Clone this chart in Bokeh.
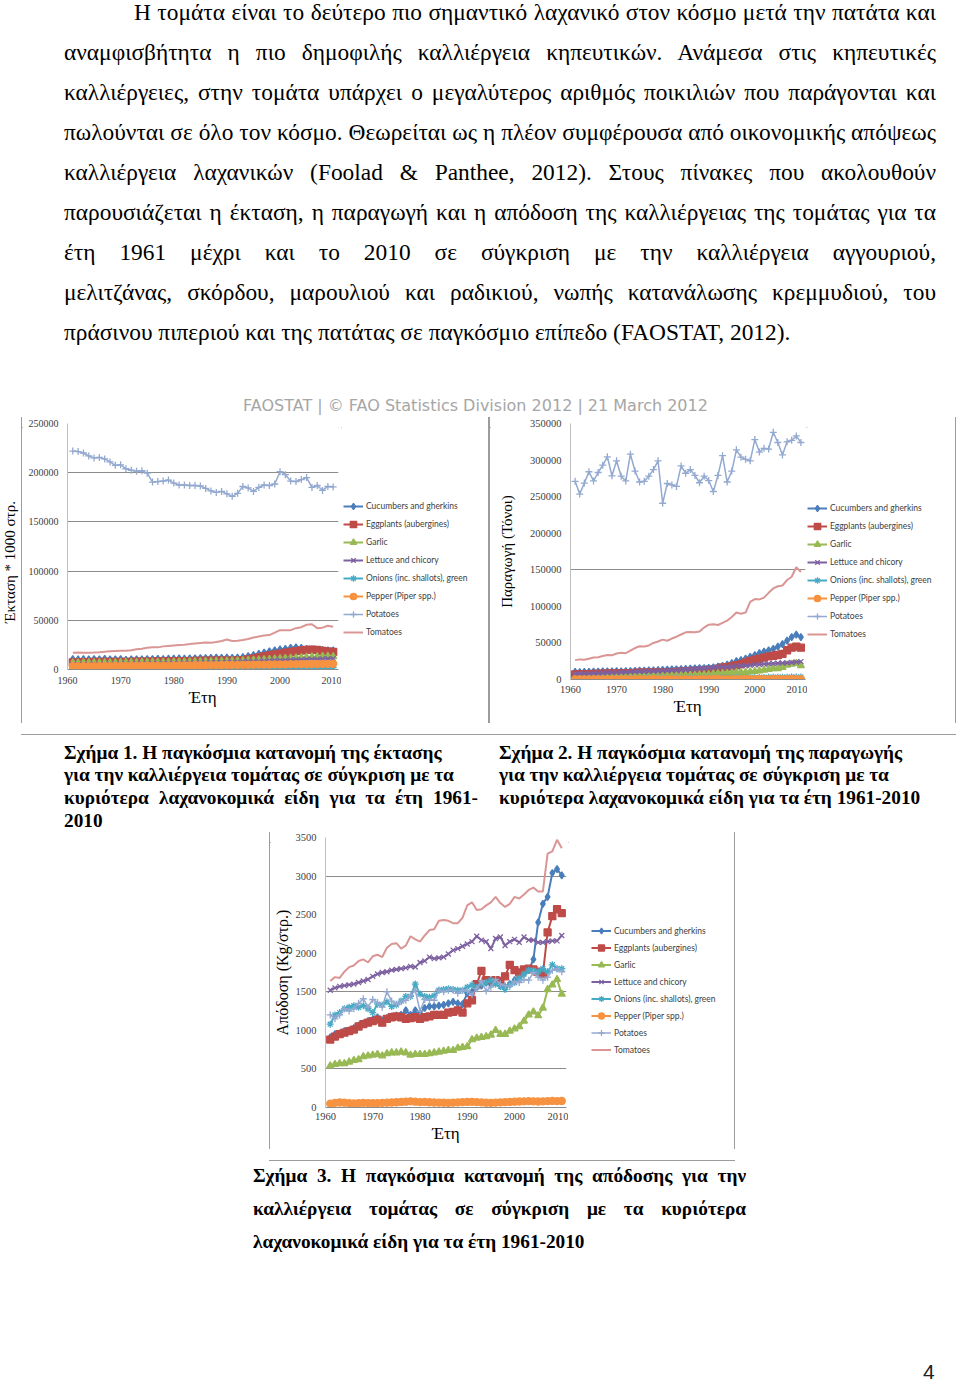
from bokeh.plotting import figure
from bokeh.models import Div, Spacer, Legend, LegendItem, FixedTicker, BasicTickFormatter, Range1d
from bokeh.layouts import column, row
from bokeh.embed import file_html
from bokeh.resources import INLINE

# ---------------- data ----------------
years = list(range(1961, 2011))
x_ticks = [1960, 1970, 1980, 1990, 2000, 2010]
names = ["Cucumbers and gherkins", "Eggplants (aubergines)", "Garlic", "Lettuce and chicory",
         "Onions (inc. shallots), green", "Pepper (Piper spp.)", "Potatoes", "Tomatoes"]
colors = ["#4A7EBB", "#BE4B48", "#98B954", "#7D60A0", "#46AAC5", "#F69240", "#93A9D0", "#D99694"]
markers = ["diamond", "square", "triangle", "x", "asterisk", "circle", "cross", None]

# Figure 1: area (1000 stremmata)
area_cucumbers = [10500, 10200, 10600, 10300, 10500, 10400, 10700, 10400, 10200, 10500,
                  9800, 10200, 10400, 10300, 10500, 10600, 10800, 10600, 11000, 11000,
                  11200, 11000, 11300, 11400, 11600, 11500, 11800, 12000, 11800, 12000,
                  11800, 12200, 12600, 13500, 14500, 16000, 17200, 18500, 19500, 20500,
                  21000, 22000, 22500, 22000, 21000, 20500, 20000, 20000, 19500, 19500]
area_eggplants = [7300, 7400, 7500, 7500, 7600, 7600, 7700, 7700, 7800, 7800,
                  7700, 7800, 7900, 8000, 8000, 8100, 8200, 8300, 8300, 8400,
                  8500, 8500, 8600, 8700, 8800, 8900, 9000, 9100, 9200, 9000,
                  9100, 9300, 9600, 10300, 11200, 12300, 13400, 14500, 15300, 16200,
                  17000, 17800, 18600, 19300, 20000, 20200, 19800, 19000, 18400, 18000]
area_garlic = [6800, 6800, 6900, 6900, 7000, 7000, 7000, 7100, 7100, 7200,
               7200, 7300, 7300, 7400, 7400, 7500, 7500, 7600, 7600, 7700,
               7700, 7800, 7900, 8000, 8100, 8200, 8300, 8400, 8500, 8600,
               8700, 8900, 9100, 9300, 9600, 9800, 10100, 10400, 10700, 11000,
               11300, 11600, 11900, 12200, 12500, 12800, 13000, 13300, 13500, 13200]
area_lettuce = [5000, 5100, 5100, 5200, 5300, 5300, 5400, 5500, 5500, 5600,
                5700, 5700, 5800, 5900, 5900, 6000, 6100, 6200, 6200, 6300,
                6400, 6500, 6600, 6700, 6800, 6900, 7000, 7100, 7200, 7400,
                7500, 7700, 7900, 8100, 8300, 8500, 8700, 8900, 9100, 9300,
                9500, 9700, 9900, 10100, 10300, 10500, 10600, 10800, 11000, 11100]
area_onions = [900, 900, 900, 950, 950, 950, 1000, 1000, 1000, 1050,
               1050, 1050, 1100, 1100, 1100, 1150, 1150, 1150, 1200, 1200,
               1200, 1250, 1250, 1250, 1300, 1300, 1300, 1350, 1350, 1350,
               1400, 1400, 1400, 1450, 1450, 1500, 1500, 1550, 1550, 1600,
               1600, 1650, 1650, 1700, 1700, 1750, 1750, 1800, 1800, 1850]
area_pepper = [3300, 3400, 3400, 3300, 3500, 3500, 3600, 3500, 3600, 3700,
               3700, 3800, 3700, 3800, 3900, 3900, 4000, 3900, 4000, 4100,
               4100, 4200, 4200, 4300, 4300, 4400, 4400, 4500, 4600, 4600,
               4700, 4700, 4800, 4800, 4900, 5000, 5000, 5100, 5200, 5200,
               5300, 5400, 5400, 5500, 5500, 5600, 5600, 5700, 5700, 5800]
area_potatoes = [222000, 221500, 220000, 217000, 215000, 215500, 214000, 211000, 207500, 208000,
                 204000, 202500, 201500, 202000, 199500, 190500, 191000, 191500, 192500, 189500,
                 187500, 187500, 187000, 187000, 186500, 184000, 181500, 180000, 181000, 178500,
                 176000, 179000, 186000, 184500, 181000, 185000, 187500, 187000, 188500, 201000,
                 198000, 191500, 191000, 193000, 195000, 185000, 187000, 182000, 186000, 185500]
area_tomatoes = [17000, 17300, 17100, 17000, 17200, 17500, 18000, 18500, 18800, 19000,
                 19000, 19500, 20500, 21000, 22000, 22500, 22500, 23500, 24000, 24500,
                 25000, 25200, 25800, 26500, 27000, 27500, 27300, 28000, 29000, 30500,
                 29000, 29200, 30000, 31000, 32500, 33500, 34500, 35000, 37500, 40000,
                 40000, 40000, 42000, 43000, 45500, 46000, 42000, 42500, 44500, 43500]

# Figure 2: production (1000 t)
prod_cucumbers = [10500, 10200, 10600, 10500, 10800, 10700, 11000, 11100, 11000, 11400,
                  11000, 11300, 11600, 11700, 12000, 12300, 12600, 12500, 13000, 13200,
                  13500, 13700, 14000, 14300, 14700, 14900, 15300, 15600, 15500, 16000,
                  16500, 17600, 18800, 20500, 22500, 25000, 26500, 28500, 31000, 33500,
                  36000, 38000, 40000, 42000, 45000, 48500, 53000, 58000, 61500, 58000]
prod_eggplants = [7000, 7100, 7300, 7400, 7600, 7700, 7900, 8100, 8300, 8500,
                  8600, 8500, 8800, 9000, 9200, 9300, 9400, 9600, 9700, 9800,
                  10000, 10200, 10400, 10600, 10800, 11100, 11400, 11700, 11600, 12500,
                  12800, 14500, 16500, 17000, 18000, 19500, 21000, 23000, 25500, 27000,
                  28000, 30000, 31500, 32500, 33500, 35000, 40000, 43500, 45000, 43500]
prod_garlic = [3500, 3600, 3700, 3700, 3800, 3900, 4000, 4200, 4300, 4400,
               4500, 4500, 4700, 4800, 4900, 5000, 5000, 5000, 5100, 5200,
               5300, 5400, 5500, 5700, 5900, 6000, 6100, 6400, 6600, 6800,
               7600, 8000, 8300, 8500, 9000, 9800, 9600, 9900, 10600, 11200,
               11800, 12900, 14000, 15000, 14800, 16500, 19800, 21000, 22000, 19000]
prod_lettuce = [7500, 7800, 7900, 8100, 8400, 8500, 8800, 9200, 9400, 9700,
                9900, 10000, 10400, 10600, 10700, 11000, 11200, 11400, 11600, 11900,
                12300, 12500, 12700, 13000, 13300, 13800, 14300, 14800, 15300, 15800,
                16300, 17000, 17300, 17200, 17500, 18600, 19000, 18800, 19500, 20000,
                20500, 21200, 21500, 21800, 22200, 22600, 22800, 23300, 23800, 24500]
prod_onions = [1000, 1100, 1150, 1200, 1250, 1250, 1300, 1300, 1300, 1300,
               1400, 1400, 1500, 1450, 1450, 1600, 1650, 1650, 1900, 1750,
               1750, 1800, 1800, 1900, 1950, 2000, 2000, 2050, 2050, 2100,
               2200, 2200, 2250, 2350, 2400, 2400, 2350, 2400, 2450, 2600,
               2700, 2850, 2950, 3050, 3000, 3150, 3100, 3350, 3250, 3350]
prod_pepper = [170, 200, 220, 200, 200, 180, 200, 210, 210, 200,
               210, 230, 230, 250, 260, 280, 300, 310, 300, 290,
               300, 290, 280, 270, 270, 260, 280, 300, 320, 330,
               350, 330, 320, 300, 290, 310, 330, 360, 370, 390,
               410, 430, 440, 440, 430, 450, 460, 480, 470, 490]
prod_potatoes = [271000, 253500, 268500, 284000, 271500, 283000, 293000, 304500, 278500, 299000,
                 278000, 271500, 308000, 285000, 270000, 271000, 278000, 287000, 299000, 241000,
                 268000, 266000, 264000, 292000, 282000, 287000, 279000, 269000, 278000, 272000,
                 257000, 279000, 306000, 270000, 285000, 314000, 304000, 301000, 299000, 328000,
                 311000, 316000, 315000, 338000, 324000, 307000, 325000, 327000, 333000, 324000]
prod_tomatoes = [26500, 27500, 27000, 28500, 30000, 30500, 32000, 33500, 33000, 35500,
                 36500, 36000, 39500, 43000, 45500, 45000, 46500, 50000, 52000, 54500,
                 53000, 56000, 58500, 61500, 64500, 65000, 64500, 65500, 71000, 75000,
                 75500, 74500, 77500, 80500, 85500, 91500, 90000, 91500, 106000, 110000,
                 109500, 112000, 118500, 124500, 127500, 128500, 136000, 140500, 153500, 147000]

# Figure 3: yield (kg / stremma)
yld_cucumbers = [910, 950, 960, 990, 1000, 1030, 1060, 1090, 1120, 1140,
                 1170, 1130, 1160, 1180, 1190, 1200, 1260, 1200, 1260, 1220,
                 1290, 1310, 1310, 1320, 1330, 1350, 1370, 1350, 1340, 1480,
                 1500, 1560, 1580, 1620, 1600, 1620, 1580, 1560, 1600, 1650,
                 1680, 1730, 1780, 1920, 2400, 2640, 2730, 3040, 3090, 3010]
yld_eggplants = [880, 920, 950, 970, 990, 1010, 1050, 1080, 1100, 1120,
                 1140, 1100, 1150, 1170, 1180, 1170, 1150, 1160, 1170, 1150,
                 1170, 1180, 1200, 1200, 1200, 1230, 1240, 1260, 1230, 1350,
                 1390, 1600, 1770, 1650, 1640, 1650, 1640, 1700, 1850, 1780,
                 1750, 1790, 1800, 1790, 1760, 1730, 2270, 2480, 2570, 2520]
yld_garlic = [540, 560, 570, 570, 590, 610, 620, 660, 670, 680,
              690, 670, 700, 710, 710, 720, 710, 680, 690, 690,
              690, 700, 710, 720, 730, 740, 740, 770, 780, 790,
              880, 900, 910, 920, 940, 1000, 950, 950, 990, 1020,
              1050, 1120, 1200, 1240, 1190, 1290, 1530, 1590, 1660, 1470]
yld_lettuce = [1520, 1550, 1570, 1580, 1590, 1600, 1620, 1640, 1660, 1700,
               1730, 1750, 1760, 1780, 1790, 1800, 1810, 1830, 1820, 1880,
               1900, 1950, 1930, 1940, 1950, 1990, 2040, 2060, 2090, 2120,
               2150, 2220, 2170, 2150, 2060, 2190, 2210, 2100, 2150, 2180,
               2140, 2210, 2170, 2170, 2140, 2140, 2150, 2160, 2160, 2230]
yld_onions = [1080, 1200, 1230, 1280, 1300, 1320, 1300, 1320, 1280, 1230,
              1340, 1330, 1370, 1310, 1330, 1380, 1440, 1440, 1600, 1470,
              1440, 1430, 1450, 1520, 1530, 1540, 1530, 1520, 1520, 1560,
              1590, 1560, 1600, 1620, 1650, 1600, 1570, 1530, 1590, 1620,
              1680, 1730, 1780, 1780, 1760, 1800, 1760, 1850, 1800, 1800]
yld_pepper = [50, 60, 65, 62, 58, 52, 55, 60, 58, 55,
              57, 60, 62, 65, 68, 72, 75, 80, 75, 70,
              72, 68, 65, 63, 62, 60, 63, 66, 70, 72,
              74, 70, 66, 62, 60, 63, 66, 70, 72, 75,
              78, 80, 82, 80, 78, 80, 82, 85, 83, 85]
yld_potatoes = [1200, 1150, 1200, 1280, 1250, 1280, 1350, 1410, 1300, 1400,
                1360, 1300, 1500, 1380, 1340, 1370, 1390, 1450, 1520, 1250,
                1400, 1390, 1390, 1520, 1500, 1520, 1520, 1480, 1520, 1510,
                1460, 1540, 1640, 1510, 1560, 1660, 1600, 1580, 1570, 1630,
                1620, 1660, 1650, 1750, 1690, 1650, 1690, 1780, 1800, 1760]
yld_tomatoes = [1640, 1690, 1680, 1760, 1820, 1840, 1900, 1920, 1880, 1960,
                1980, 1950, 2070, 2120, 2130, 2060, 2100, 2220, 2180, 2150,
                2230, 2300, 2310, 2420, 2430, 2420, 2390, 2390, 2460, 2620,
                2660, 2560, 2570, 2620, 2660, 2730, 2650, 2600, 2640, 2730,
                2710, 2760, 2820, 2850, 2800, 2800, 3290, 3320, 3470, 3360]

area_series = [area_cucumbers, area_eggplants, area_garlic, area_lettuce,
               area_onions, area_pepper, area_potatoes, area_tomatoes]
prod_series = [prod_cucumbers, prod_eggplants, prod_garlic, prod_lettuce,
               prod_onions, prod_pepper, prod_potatoes, prod_tomatoes]
yld_series = [yld_cucumbers, yld_eggplants, yld_garlic, yld_lettuce,
              yld_onions, yld_pepper, yld_potatoes, yld_tomatoes]

area_ticks = [0, 50000, 100000, 150000, 200000, 250000]
prod_ticks = [0, 50000, 100000, 150000, 200000, 250000, 300000, 350000]
yld_ticks = [0, 500, 1000, 1500, 2000, 2500, 3000, 3500]

SERIF = "Liberation Serif"
FRAME = "#9c9c9c"


def add_series(p, series, marker_size):
    out = []
    for vals, name, col, mk in zip(series, names, colors, markers):
        lw = 1.5 if name == "Potatoes" else 2
        rl = p.line(years, vals, line_color=col, line_width=lw)
        rs = [rl]
        if mk is not None:
            rm = p.scatter(years, vals, marker=mk, size=marker_size,
                           fill_color=col, line_color=col, line_width=1.3)
            rs.append(rm)
        out.append((name, rs))
    return out


def make_plot(width, height, borders, y_end, y_ticks, grid_ticks, series,
              tick_size, xlab_standoff, ylabel=None, ylab_standoff=0,
              ylab_size="15px", marker_size=7):
    left, right, top, bottom = borders
    p = figure(width=width, height=height, x_range=Range1d(1960, 2011),
               y_range=Range1d(0, y_end), output_backend="svg",
               toolbar_location=None, tools="", title=None,
               min_border_left=left, min_border_right=right,
               min_border_top=top, min_border_bottom=bottom)
    p.background_fill_color = "white"
    p.border_fill_color = "white"
    p.outline_line_color = None
    p.xgrid.visible = False
    p.ygrid.ticker = FixedTicker(ticks=grid_ticks)
    p.ygrid.grid_line_color = "#8c8c8c"
    p.ygrid.grid_line_width = 1
    for ax in (p.xaxis[0], p.yaxis[0]):
        ax.major_tick_line_color = None
        ax.minor_tick_line_color = None
        ax.major_tick_in = 0
        ax.major_tick_out = 0
        ax.major_label_text_font = SERIF
        ax.major_label_text_font_size = tick_size
        ax.major_label_text_color = "#404040"
        ax.axis_label_text_font = SERIF
        ax.axis_label_text_font_style = "normal"
        ax.axis_label_text_color = "#000000"
    p.xaxis.ticker = FixedTicker(ticks=x_ticks)
    p.xaxis.axis_line_color = "#8c8c8c"
    p.xaxis.major_label_standoff = xlab_standoff
    p.xaxis.axis_label = "Έτη"
    p.xaxis.axis_label_text_font_size = "17px"
    p.xaxis.axis_label_standoff = 1
    p.yaxis.ticker = FixedTicker(ticks=y_ticks)
    p.yaxis.formatter = BasicTickFormatter(use_scientific=False)
    p.yaxis.axis_line_color = "#bfbfbf"
    p.yaxis.major_label_standoff = 9
    if ylabel:
        p.yaxis.axis_label = ylabel
        p.yaxis.axis_label_text_font_size = ylab_size
        p.yaxis.axis_label_standoff = ylab_standoff
    add_series(p, series, marker_size)
    return p


def make_legend_fig(width, height, series, legend_xy, glyph_h, marker_size=7):
    # legend panel of the chart: the series renderers lie outside its view,
    # only their legend glyphs are shown
    p = figure(width=width, height=height, x_range=Range1d(0, 1), y_range=Range1d(0, 1),
               output_backend="svg", toolbar_location=None, tools="", title=None,
               x_axis_location=None, y_axis_location=None, min_border=0)
    p.outline_line_color = None
    p.grid.visible = False
    p.background_fill_color = "white"
    p.border_fill_color = "white"
    pairs = add_series(p, series, marker_size)
    items = [LegendItem(label=n, renderers=rs) for n, rs in pairs]
    leg = Legend(items=items, location=legend_xy, padding=0, margin=0, spacing=2,
                 glyph_width=20, glyph_height=glyph_h, label_height=glyph_h,
                 label_standoff=3, label_text_font="Lato", label_text_font_size="8.5px",
                 label_text_color="#404040", background_fill_alpha=0,
                 border_line_alpha=0, label_text_baseline="middle")
    p.add_layout(leg)
    return p


def hline(w):
    return Div(text=f'<div style="width:{w}px;height:1px;background:{FRAME};"></div>',
               width=w, height=1, margin=0)


def vline(h):
    return Div(text=f'<div style="width:1px;height:{h}px;background:{FRAME};"></div>',
               width=1, height=h, margin=0)


def framed(plot_fig, leg_fig, w, h):
    return column(hline(w), row(vline(h - 2), plot_fig, leg_fig, vline(h - 2), spacing=0),
                  hline(w), spacing=0)


fig1 = make_plot(319, 306, (45, 3, 6, 54), 250000, area_ticks, area_ticks,
                 area_series, "10px", 7)
leg1 = make_legend_fig(147, 306, area_series, (2, 29), 16)
fig2 = make_plot(317, 306, (80, 2, 6, 44), 350000, prod_ticks, [150000, 350000],
                 prod_series, "10.5px", 6, ylabel="Παραγωγή (Τόνοι)", ylab_standoff=12,
                 ylab_size="15px")
leg2 = make_legend_fig(148, 306, prod_series, (0, 37), 16)
fig3 = make_plot(298, 317, (53, 2, 5, 42), 3500, yld_ticks, [500, 1500, 3000, 3500],
                 yld_series, "10.5px", 5, ylabel="Απόδοση (Kg/στρ.)", ylab_standoff=2,
                 ylab_size="16px")
leg3 = make_legend_fig(166, 317, yld_series, (23, 50), 15)

# ---------------- page texts ----------------
para_lines = [
    "Η τομάτα είναι το δεύτερο πιο σημαντικό λαχανικό στον κόσμο μετά την πατάτα και",
    "αναμφισβήτητα η πιο δημοφιλής καλλιέργεια κηπευτικών. Ανάμεσα στις κηπευτικές",
    "καλλιέργειες, στην τομάτα υπάρχει ο μεγαλύτερος αριθμός ποικιλιών που παράγονται και",
    "πωλούνται σε όλο τον κόσμο. Θεωρείται ως η πλέον συμφέρουσα από οικονομικής απόψεως",
    "καλλιέργεια λαχανικών (Foolad & Panthee, 2012). Στους πίνακες που ακολουθούν",
    "παρουσιάζεται η έκταση, η παραγωγή και η απόδοση της καλλιέργειας της τομάτας για τα",
    "έτη 1961 μέχρι και το 2010 σε σύγκριση με την καλλιέργεια αγγουριού,",
    "μελιτζάνας, σκόρδου, μαρουλιού και ραδικιού, νωπής κατανάλωσης κρεμμυδιού, του",
    "πράσινου πιπεριού και της πατάτας σε παγκόσμιο επίπεδο (FAOSTAT, 2012).",
]
header_text = "FAOSTAT | © FAO Statistics Division 2012 | 21 March 2012"
cap1_lines = ["<b>Σχήμα 1. Η παγκόσμια κατανομή της έκτασης</b>",
              "<b>για την καλλιέργεια τομάτας σε σύγκριση με τα</b>",
              "<b>κυριότερα λαχανοκομικά είδη για τα έτη 1961-</b>",
              "<b>2010</b>"]
cap2_lines = ["<b>Σχήμα 2. Η παγκόσμια κατανομή της παραγωγής</b>",
              "<b>για την καλλιέργεια τομάτας σε σύγκριση με τα</b>",
              "<b>κυριότερα λαχανοκομικά είδη για τα έτη 1961-2010</b>"]
cap3_lines = ["<b>Σχήμα 3. Η παγκόσμια κατανομή της απόδοσης για την</b>",
              "<b>καλλιέργεια τομάτας σε σύγκριση με τα κυριότερα</b>",
              "<b>λαχανοκομικά είδη για τα έτη 1961-2010</b>"]
page_number = "4"
ylabel1 = "Έκταση * 1000 στρ."

W = 956
JUST = "text-align:justify;text-align-last:justify;"
LEFT = "text-align:left;text-align-last:left;"

html = [f'<div style="position:relative;width:{W}px;height:352px;overflow:visible;">',
        '<div style="position:absolute;left:64px;top:-8px;width:872px;'
        'font-family:\'Liberation Serif\',serif;font-size:23.4px;line-height:40px;color:#000;">']
for i, ln in enumerate(para_lines):
    al = LEFT if i == len(para_lines) - 1 else JUST
    ind = "text-indent:70px;" if i == 0 else ""
    html.append(f'<div style="height:40px;{al}{ind}">{ln}</div>')
html.append('</div></div>')
div_para = Div(text="".join(html), width=W, height=352, margin=0)

div_header = Div(text=(
    f'<div style="position:relative;width:{W}px;height:64px;">'
    '<div style="position:absolute;left:243px;top:45px;height:18px;line-height:18px;'
    'font-family:\'DejaVu Sans\';font-size:16px;color:#a6a6a6;white-space:nowrap;">'
    f'{header_text}</div></div>'), width=W, height=64, margin=0)

div_ylab1 = Div(text=(
    '<div style="position:relative;width:21px;height:308px;overflow:visible;">'
    '<div style="position:absolute;left:-60px;top:138px;width:140px;height:16px;'
    'line-height:16px;text-align:center;transform:rotate(-90deg);'
    'font-family:\'Liberation Serif\',serif;font-size:15px;color:#000;white-space:nowrap;">'
    f'{ylabel1}</div></div>'), width=21, height=308, margin=0)

CAP = "font-family:'Liberation Serif',serif;font-size:19.3px;line-height:22.7px;color:#000;"
c1 = []
for i, ln in enumerate(cap1_lines):
    if i == 2:
        c1.append(f'<div style="height:22.7px;{JUST}">{ln}</div>')
    else:
        c1.append(f'<div style="height:22.7px;{LEFT}white-space:nowrap;">{ln}</div>')
c2 = [f'<div style="height:22.7px;{LEFT}white-space:nowrap;">{ln}</div>' for ln in cap2_lines]
div_caps = Div(text=(
    f'<div style="position:relative;width:{W}px;height:107px;">'
    f'<div style="position:absolute;left:64px;top:17.6px;width:414px;{CAP}">{"".join(c1)}</div>'
    f'<div style="position:absolute;left:499px;top:17.6px;width:445px;{CAP}">{"".join(c2)}</div>'
    '</div>'), width=W, height=107, margin=0)

CAP3 = "font-family:'Liberation Serif',serif;font-size:19.3px;line-height:33px;color:#000;"
c3 = []
for i, ln in enumerate(cap3_lines):
    al = LEFT if i == len(cap3_lines) - 1 else JUST
    c3.append(f'<div style="height:33px;{al}">{ln}</div>')
div_cap3 = Div(text=(
    f'<div style="position:relative;width:{W}px;height:230px;">'
    f'<div style="position:absolute;left:253px;top:8.5px;width:493px;{CAP3}">{"".join(c3)}</div>'
    '<div style="position:absolute;left:923px;top:210px;height:24px;line-height:24px;'
    'font-family:\'Liberation Sans\',sans-serif;font-size:21px;color:#222;">'
    f'{page_number}</div></div>'), width=W, height=230, margin=0)

layout = column(
    div_para,
    div_header,
    row(div_ylab1, framed(fig1, leg1, 468, 308), framed(fig2, leg2, 467, 308), spacing=0),
    div_caps,
    row(Spacer(width=269, height=319), framed(fig3, leg3, 466, 319), spacing=0),
    div_cap3,
    spacing=0,
)

open("out.html", "w").write(file_html(layout, INLINE))
